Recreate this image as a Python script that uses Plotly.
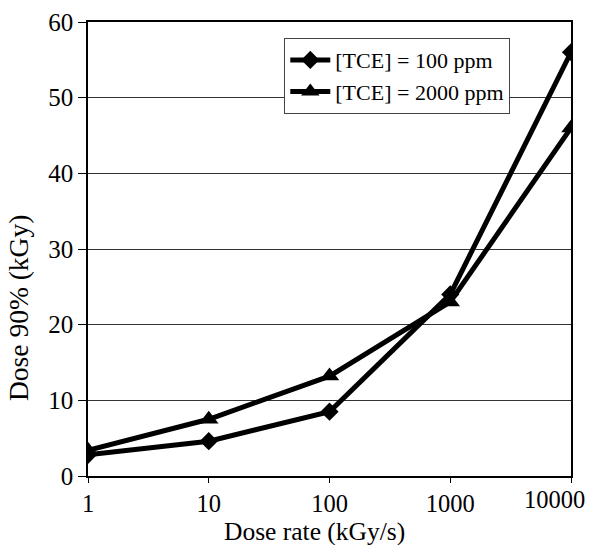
import plotly.graph_objects as go

dose_rate = [1, 10, 100, 1000, 10000]
tce_100 = [2.8, 4.6, 8.5, 24.0, 56.0]
tce_2000 = [3.4, 7.5, 13.2, 23.0, 46.0]
x_ticks = [1, 10, 100, 1000, 10000]
x_tick_labels = ["1", "10", "100", "1000", "10000"]
y_ticks = [0, 10, 20, 30, 40, 50, 60]
x_title = "Dose rate (kGy/s)"
y_title = "Dose 90% (kGy)"

font = "Liberation Serif, Times New Roman, serif"

fig = go.Figure()
fig.add_trace(go.Scatter(
    x=dose_rate, y=tce_100, mode="lines+markers", name="[TCE] = 100 ppm",
    line=dict(color="black", width=5),
    marker=dict(symbol="diamond", size=14, color="black"),
))
fig.add_trace(go.Scatter(
    x=dose_rate, y=tce_2000, mode="lines+markers", name="[TCE] = 2000 ppm",
    line=dict(color="black", width=5),
    marker=dict(symbol="triangle-up", size=17, color="black"),
))

# last x tick label drawn right-aligned so it stays within the figure
shown_labels = x_tick_labels[:-1] + [""]
fig.add_annotation(
    x=4, y=0, xref="x", yref="paper",
    text=x_tick_labels[-1], showarrow=False,
    xanchor="right", yanchor="top", xshift=16, yshift=-8,
    font=dict(family=font, size=24.5, color="black"),
)
# axis titles placed as in the reference (offset from axis centres)
fig.add_annotation(
    x=0.468, y=-0.085, xref="paper", yref="paper",
    text=x_title, showarrow=False, xanchor="center", yanchor="top",
    font=dict(family=font, size=25.5, color="black"),
)
fig.add_annotation(
    x=-0.145, y=0.37, xref="paper", yref="paper",
    text=y_title, showarrow=False, xanchor="center", yanchor="middle",
    textangle=-90,
    font=dict(family=font, size=27.5, color="black"),
)

fig.update_layout(
    width=590, height=545,
    margin=dict(l=88, r=19, t=22, b=69),
    paper_bgcolor="white", plot_bgcolor="white",
    font=dict(family=font, size=25, color="black"),
    showlegend=True,
    legend=dict(
        x=0.406, y=0.965, xanchor="left", yanchor="top",
        bgcolor="white", bordercolor="#444", borderwidth=1.2,
        font=dict(family=font, size=22, color="black"),
        itemwidth=40, tracegroupgap=2,
    ),
    xaxis=dict(
        type="log", range=[0, 4], automargin=False,
        tickvals=x_ticks, ticktext=shown_labels,
        ticks="outside", ticklen=5, tickcolor="black",
        showline=True, linecolor="black", linewidth=1.5, mirror=True,
        showgrid=False, zeroline=False,
        tickfont=dict(size=24.5),
    ),
    yaxis=dict(
        range=[0, 60], tickvals=y_ticks, automargin=False,
        ticks="outside", ticklen=8, tickcolor="black",
        showline=True, linecolor="black", linewidth=1.5, mirror=True,
        showgrid=True, gridcolor="#333", gridwidth=1,
        zeroline=False,
        tickfont=dict(size=25),
    ),
)

fig.write_html(
    "out.html",
    config={"displayModeBar": False},
    post_script="document.body.style.margin='0';document.body.style.overflow='hidden';",
)
